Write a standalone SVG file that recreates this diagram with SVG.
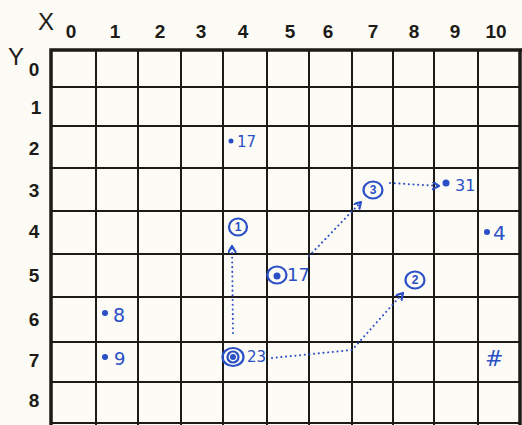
<svg xmlns="http://www.w3.org/2000/svg" width="522" height="425" viewBox="0 0 522 425">
<style>
.grid{stroke:#1d1b17;stroke-width:2;fill:none}
.border{stroke:#1d1b17;stroke-width:3.5;fill:none}
.axis{font-family:"Liberation Sans",Arial,sans-serif;font-weight:bold;font-size:19px;fill:#1d1b17;text-anchor:middle}
.axisName{font-family:"Liberation Sans",Arial,sans-serif;font-size:24px;fill:#1d1b17;text-anchor:middle}
.ink{fill:#2a4fc6}
.ring{fill:none;stroke:#2a4fc6;stroke-width:2.2}
.hand{font-family:"DejaVu Sans","Liberation Sans",sans-serif;fill:#2a4fc6}
.num{font-family:"Liberation Sans",Arial,sans-serif;font-weight:bold;fill:#2a4fc6;font-size:12px;text-anchor:middle}
.dot{fill:none;stroke:#2a4fc6;stroke-width:2;stroke-linecap:round;stroke-dasharray:0.1 4.6}
</style>
<defs>
<marker id="arr" markerWidth="10" markerHeight="10" refX="7" refY="4" orient="auto" markerUnits="userSpaceOnUse">
<path d="M1,0.5 L7,4 L1,7.5" fill="none" stroke="#2a4fc6" stroke-width="2.2" stroke-linecap="round" stroke-linejoin="round"/>
</marker>
</defs>
<rect x="0" y="0" width="522" height="425" fill="#fcfbf5"/>
<g id="grid">
<path class="grid" d="M96,50V425M138,50V425M181,50V425M223,50V425M267,50V425M309,50V425M352,50V425M393,50V425M434,50V425M478,50V425"/>
<path class="grid" d="M51,87H521M51,126H521M51,168H521M51,211H521M51,254H521M51,297H521M51,342H521M51,382H521M51,423H521"/>
<path class="border" d="M51,425V50H522"/>
<path class="border" d="M520,50V425"/>
</g>
<g id="axes">
<text class="axisName" x="46" y="30">X</text>
<text class="axisName" x="16" y="65">Y</text>
<text class="axis" x="71" y="38">0</text>
<text class="axis" x="115" y="38">1</text>
<text class="axis" x="160" y="38">2</text>
<text class="axis" x="201" y="38">3</text>
<text class="axis" x="243" y="38">4</text>
<text class="axis" x="290" y="38">5</text>
<text class="axis" x="328" y="38">6</text>
<text class="axis" x="373" y="38">7</text>
<text class="axis" x="414" y="38">8</text>
<text class="axis" x="455" y="38">9</text>
<text class="axis" x="496" y="38">10</text>
<text class="axis" x="34" y="76">0</text>
<text class="axis" x="36" y="114">1</text>
<text class="axis" x="34" y="155">2</text>
<text class="axis" x="34" y="197">3</text>
<text class="axis" x="34" y="238">4</text>
<text class="axis" x="34" y="282">5</text>
<text class="axis" x="34" y="326">6</text>
<text class="axis" x="34" y="367">7</text>
<text class="axis" x="34" y="407">8</text>
</g>
<g id="connectors">
<path class="dot" d="M233,333 L232,246" marker-end="url(#arr)"/>
<path class="dot" d="M309,256 L361,202" marker-end="url(#arr)"/>
<path class="dot" d="M390,183 L439,186" marker-end="url(#arr)"/>
<path class="dot" d="M272,358 L352,350 L403,293" marker-end="url(#arr)"/>
</g>
<g id="n17a"><circle class="ink" cx="231" cy="141" r="2.5"/><text class="hand" x="237" y="147" font-size="15">17</text></g>
<g id="n1"><ellipse class="ring" cx="238" cy="227" rx="9" ry="8.5"/><text class="num" x="238" y="231">1</text></g>
<g id="n17b"><ellipse class="ring" cx="277" cy="275" rx="9.5" ry="8.5"/><circle class="ink" cx="277" cy="276" r="3.5"/><text class="hand" x="287" y="281" font-size="18">17</text></g>
<g id="n3"><ellipse class="ring" cx="373" cy="190" rx="9.5" ry="8.5"/><text class="num" x="373" y="194">3</text></g>
<g id="n31"><circle class="ink" cx="446" cy="183" r="3.5"/><text class="hand" x="455" y="191" font-size="16">31</text></g>
<g id="n4"><circle class="ink" cx="487" cy="232" r="3"/><text class="hand" x="493" y="240" font-size="20">4</text></g>
<g id="n2"><ellipse class="ring" cx="415" cy="280" rx="9.5" ry="8.5"/><text class="num" x="415" y="284">2</text></g>
<g id="n8"><circle class="ink" cx="105" cy="313" r="3"/><text class="hand" x="113" y="322" font-size="19">8</text></g>
<g id="n9"><circle class="ink" cx="105" cy="357" r="3"/><text class="hand" x="114" y="365" font-size="18">9</text></g>
<g id="n23"><ellipse class="ring" cx="233" cy="357" rx="10.5" ry="9"/><circle class="ring" cx="233" cy="357" r="5.5"/><circle class="ink" cx="233" cy="357" r="3"/><text class="hand" x="247" y="362" font-size="15">23</text></g>
<g id="nhash"><text class="hand" x="485" y="366" font-size="22" font-style="italic">#</text></g>
</svg>
